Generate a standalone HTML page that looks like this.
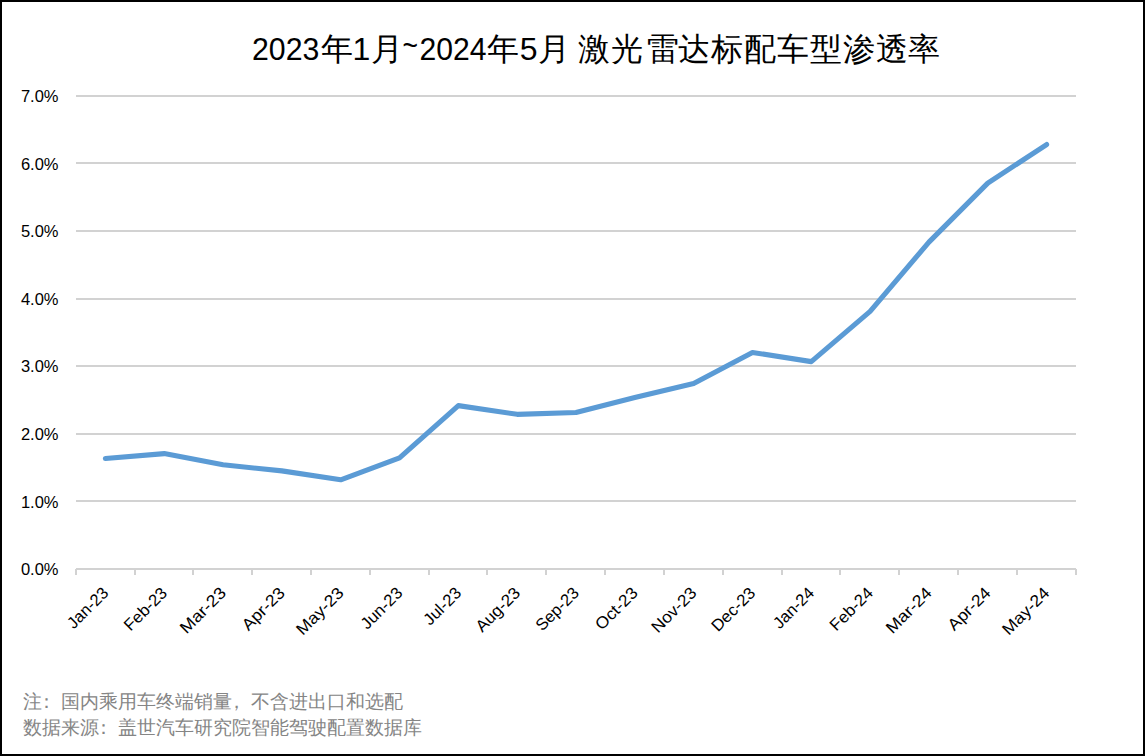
<!DOCTYPE html>
<html><head><meta charset="utf-8"><style>
html,body{margin:0;padding:0;background:#fff;}
body{width:1145px;height:756px;position:relative;overflow:hidden;font-family:"Liberation Sans",sans-serif;}
.frame{position:absolute;left:0;top:0;width:1141px;height:752px;border:2px solid #000;}
svg{position:absolute;left:0;top:0;}
</style></head><body>
<svg width="1145" height="756" viewBox="0 0 1145 756">
<rect x="76" y="95" width="1000" height="2" fill="#d2d2d2"/>
<rect x="76" y="162" width="1000" height="2" fill="#d2d2d2"/>
<rect x="76" y="230" width="1000" height="2" fill="#d2d2d2"/>
<rect x="76" y="298" width="1000" height="2" fill="#d2d2d2"/>
<rect x="76" y="365" width="1000" height="2" fill="#d2d2d2"/>
<rect x="76" y="433" width="1000" height="2" fill="#d2d2d2"/>
<rect x="76" y="500" width="1000" height="2" fill="#d2d2d2"/>
<rect x="76" y="568" width="1000" height="2" fill="#d2d2d2"/>
<rect x="75" y="569" width="2" height="6" fill="#d2d2d2"/>
<rect x="134" y="569" width="2" height="6" fill="#d2d2d2"/>
<rect x="192" y="569" width="2" height="6" fill="#d2d2d2"/>
<rect x="251" y="569" width="2" height="6" fill="#d2d2d2"/>
<rect x="310" y="569" width="2" height="6" fill="#d2d2d2"/>
<rect x="369" y="569" width="2" height="6" fill="#d2d2d2"/>
<rect x="428" y="569" width="2" height="6" fill="#d2d2d2"/>
<rect x="486" y="569" width="2" height="6" fill="#d2d2d2"/>
<rect x="545" y="569" width="2" height="6" fill="#d2d2d2"/>
<rect x="604" y="569" width="2" height="6" fill="#d2d2d2"/>
<rect x="663" y="569" width="2" height="6" fill="#d2d2d2"/>
<rect x="722" y="569" width="2" height="6" fill="#d2d2d2"/>
<rect x="781" y="569" width="2" height="6" fill="#d2d2d2"/>
<rect x="839" y="569" width="2" height="6" fill="#d2d2d2"/>
<rect x="898" y="569" width="2" height="6" fill="#d2d2d2"/>
<rect x="957" y="569" width="2" height="6" fill="#d2d2d2"/>
<rect x="1016" y="569" width="2" height="6" fill="#d2d2d2"/>
<rect x="1075" y="569" width="2" height="6" fill="#d2d2d2"/>

<polyline points="105.41,458.52 164.24,453.59 223.06,464.80 281.88,470.89 340.71,479.81 399.53,457.85 458.35,405.61 517.18,414.33 576.00,412.50 634.82,397.57 693.65,383.52 752.47,352.43 811.29,361.62 870.12,311.35 928.94,242.09 987.76,183.10 1046.59,144.52" fill="none" stroke="#5b9bd5" stroke-width="5.1" stroke-linejoin="round" stroke-linecap="round"/>
<g font-family="Liberation Sans, sans-serif" font-size="16.5" fill="#000">
<text x="58.5" y="575.20" text-anchor="end">0.0%</text>
<text x="58.5" y="507.63" text-anchor="end">1.0%</text>
<text x="58.5" y="440.06" text-anchor="end">2.0%</text>
<text x="58.5" y="372.49" text-anchor="end">3.0%</text>
<text x="58.5" y="304.91" text-anchor="end">4.0%</text>
<text x="58.5" y="237.34" text-anchor="end">5.0%</text>
<text x="58.5" y="169.77" text-anchor="end">6.0%</text>
<text x="58.5" y="102.20" text-anchor="end">7.0%</text>
</g>
<g font-family="Liberation Sans, sans-serif" font-size="16.5" fill="#000">
<text transform="translate(109.41,594) rotate(-45)" text-anchor="end" textLength="50.40" lengthAdjust="spacingAndGlyphs">Jan-23</text>
<text transform="translate(168.24,594) rotate(-45)" text-anchor="end" textLength="53.43" lengthAdjust="spacingAndGlyphs">Feb-23</text>
<text transform="translate(227.06,594) rotate(-45)" text-anchor="end" textLength="57.27" lengthAdjust="spacingAndGlyphs">Mar-23</text>
<text transform="translate(285.88,594) rotate(-45)" text-anchor="end" textLength="52.88" lengthAdjust="spacingAndGlyphs">Apr-23</text>
<text transform="translate(344.71,594) rotate(-45)" text-anchor="end" textLength="59.25" lengthAdjust="spacingAndGlyphs">May-23</text>
<text transform="translate(403.53,594) rotate(-45)" text-anchor="end" textLength="51.28" lengthAdjust="spacingAndGlyphs">Jun-23</text>
<text transform="translate(462.35,594) rotate(-45)" text-anchor="end" textLength="45.63" lengthAdjust="spacingAndGlyphs">Jul-23</text>
<text transform="translate(521.18,594) rotate(-45)" text-anchor="end" textLength="55.21" lengthAdjust="spacingAndGlyphs">Aug-23</text>
<text transform="translate(580.00,594) rotate(-45)" text-anchor="end" textLength="53.43" lengthAdjust="spacingAndGlyphs">Sep-23</text>
<text transform="translate(638.82,594) rotate(-45)" text-anchor="end" textLength="52.25" lengthAdjust="spacingAndGlyphs">Oct-23</text>
<text transform="translate(697.65,594) rotate(-45)" text-anchor="end" textLength="56.16" lengthAdjust="spacingAndGlyphs">Nov-23</text>
<text transform="translate(756.47,594) rotate(-45)" text-anchor="end" textLength="54.46" lengthAdjust="spacingAndGlyphs">Dec-23</text>
<text transform="translate(815.29,594) rotate(-45)" text-anchor="end" textLength="50.40" lengthAdjust="spacingAndGlyphs">Jan-24</text>
<text transform="translate(874.12,594) rotate(-45)" text-anchor="end" textLength="53.43" lengthAdjust="spacingAndGlyphs">Feb-24</text>
<text transform="translate(932.94,594) rotate(-45)" text-anchor="end" textLength="57.27" lengthAdjust="spacingAndGlyphs">Mar-24</text>
<text transform="translate(991.76,594) rotate(-45)" text-anchor="end" textLength="52.88" lengthAdjust="spacingAndGlyphs">Apr-24</text>
<text transform="translate(1050.59,594) rotate(-45)" text-anchor="end" textLength="59.25" lengthAdjust="spacingAndGlyphs">May-24</text>
</g>
<g font-family="Liberation Sans, sans-serif" font-size="32" fill="#000">
<text x="252" y="60" textLength="67.3" lengthAdjust="spacingAndGlyphs">2023</text><text x="320.5" y="60">年</text><text x="352.5" y="60">1</text><text x="371" y="60">月</text><text x="402.5" y="56" textLength="15.5" lengthAdjust="spacingAndGlyphs">~</text><text x="419.5" y="60" textLength="67" lengthAdjust="spacingAndGlyphs">2024</text><text x="487.3" y="60">年</text><text x="519.7" y="60">5</text><text x="537.8" y="60">月</text><text x="578" y="60">激</text><text x="611" y="60">光</text><text x="647" y="60">雷</text><text x="677.5" y="60">达</text><text x="711" y="60">标</text><text x="744" y="60">配</text><text x="776.5" y="60">车</text><text x="809.5" y="60">型</text><text x="842.5" y="60">渗</text><text x="875.5" y="60">透</text><text x="908" y="60">率</text></g>
<g font-family="Liberation Sans, sans-serif" font-size="19" fill="#858585">
<text x="23" y="708">注<tspan dx="-5.5">：</tspan><tspan dx="5.5">国内乘用车终端销量</tspan><tspan dx="-5.5">，</tspan><tspan dx="5.5">不含进出口和选配</tspan></text><text x="23" y="734">数据来源<tspan dx="-5.5">：</tspan><tspan dx="5.5">盖世汽车研究院智能驾驶配置数据库</tspan></text></g>
</svg>
<div class="frame"></div>
</body></html>
